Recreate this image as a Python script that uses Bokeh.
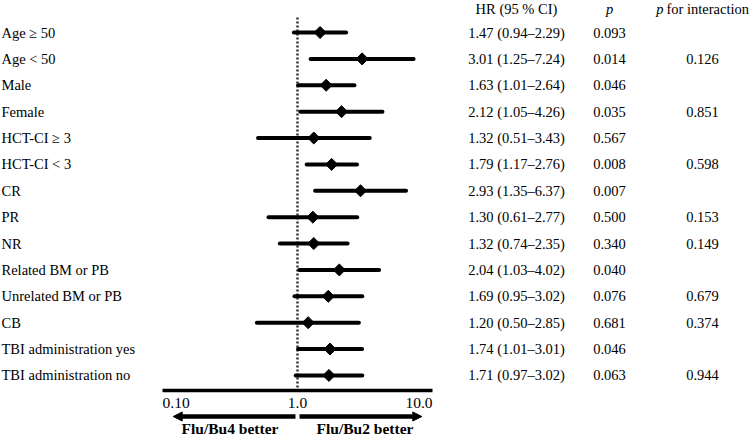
import numpy as np
from bokeh.plotting import figure
from bokeh.models import Range1d, LinearScale, ColumnDataSource, Arrow, NormalHead
from bokeh.core.properties import value
from bokeh.embed import file_html
from bokeh.resources import INLINE

# ---------------- data ----------------
labels = ["Age ≥ 50", "Age < 50", "Male", "Female", "HCT-CI ≥ 3", "HCT-CI < 3", "CR", "PR", "NR",
          "Related BM or PB", "Unrelated BM or PB", "CB", "TBI administration yes",
          "TBI administration no"]
hr = [1.47, 3.01, 1.63, 2.12, 1.32, 1.79, 2.93, 1.30, 1.32, 2.04, 1.69, 1.20, 1.74, 1.71]
ci_low = [0.94, 1.25, 1.01, 1.05, 0.51, 1.17, 1.35, 0.61, 0.74, 1.03, 0.95, 0.50, 1.01, 0.97]
ci_high = [2.29, 7.24, 2.64, 4.26, 3.43, 2.76, 6.37, 2.77, 2.35, 4.02, 3.02, 2.85, 3.01, 3.02]
p_values = ["0.093", "0.014", "0.046", "0.035", "0.567", "0.008", "0.007", "0.500", "0.340",
            "0.040", "0.076", "0.681", "0.046", "0.063"]
p_interaction = ["", "0.126", "", "0.851", "", "0.598", "", "0.153", "0.149", "", "0.679",
                 "0.374", "", "0.944"]
header_hr = "HR (95 % CI)"
header_p = "p"
header_pint_rest = "for interaction"
tick_values = [0.1, 1.0, 10.0]
tick_labels = ["0.10", "1.0", "10.0"]
arrow_labels = ["Flu/Bu4 better", "Flu/Bu2 better"]
null_hr = 1.0

# ---------------- layout ----------------
W, H = 749, 437
PX_PER_DECADE = 135.0
X_NULL_PX = 297.0
ROW0_PX, ROW_STEP = 32.0, 26.38
FONT = value("Liberation Serif")

rows = list(range(len(labels)))
hr_text = [f"{h:.2f} ({l:.2f}–{u:.2f})" for h, l, u in zip(hr, ci_low, ci_high)]

src = ColumnDataSource(dict(row=rows, label=labels, hr=hr, lo=ci_low, hi=ci_high,
                            hr_text=hr_text, p=p_values, pint=p_interaction))

def px_row(py):
    return (py - ROW0_PX) / ROW_STEP

x_range = Range1d(10 ** (-X_NULL_PX / PX_PER_DECADE), 10 ** ((W - X_NULL_PX) / PX_PER_DECADE))
y_range = Range1d(px_row(H), px_row(0))

p = figure(width=W, height=H, x_axis_type="log", x_range=x_range, y_range=y_range,
           x_axis_location=None, y_axis_location=None, output_backend="svg",
           toolbar_location=None, min_border=0)
p.grid.visible = False
p.outline_line_color = None
p.background_fill_color = "white"
p.border_fill_color = "white"

p.extra_x_ranges = {"px": Range1d(0, W)}
p.extra_x_scales = {"px": LinearScale()}

# null line
p.segment(x0=[null_hr], x1=[null_hr], y0=[px_row(17)], y1=[px_row(388)],
          line_color="#333333", line_width=2.5, line_dash="2 2")

# CIs and points
p.segment(x0="lo", x1="hi", y0="row", y1="row", source=src, line_color="black",
          line_width=4, line_cap="round")
p.scatter(x="hr", y="row", source=src, marker="square", angle=np.pi / 4, size=8.5,
          fill_color="black", line_color="black")

# axis
axis_row = px_row(390)
p.segment(x0=[tick_values[0]], x1=[tick_values[-1]], y0=[axis_row], y1=[axis_row],
          line_color="black", line_width=3.5)
aligns = ["left"] + ["center"] * (len(tick_values) - 2) + ["right"]
p.text(x=tick_values, y=[px_row(402)] * len(tick_values), text=tick_labels,
       text_align=aligns, text_baseline="middle", text_font=FONT,
       text_font_size="15.5px", text_color="black")

# arrows
arr_row = px_row(416)
head = dict(size=9, fill_color="black", line_color="black")
p.add_layout(Arrow(x_start=null_hr / 1.035, x_end=tick_values[0] * 1.2, y_start=arr_row,
                   y_end=arr_row, line_width=4.5, line_color="black",
                   end=NormalHead(**head)))
p.add_layout(Arrow(x_start=null_hr * 1.035, x_end=tick_values[-1] / 1.2, y_start=arr_row,
                   y_end=arr_row, line_width=4.5, line_color="black",
                   end=NormalHead(**head)))
p.text(x=[np.sqrt(tick_values[0] * null_hr), np.sqrt(tick_values[-1] * null_hr)],
       y=[px_row(428)] * 2, text=arrow_labels, text_align="center", text_baseline="middle",
       text_font=FONT, text_font_style="bold", text_font_size="15.5px", text_color="black")

# left labels
p.text(x=1, y="row", text="label", source=src, x_range_name="px", text_align="left",
       text_baseline="middle", text_font=FONT, text_font_size="14.5px", text_color="black")

# table columns
col_hr, col_p, col_pint = 516, 609, 702
p.text(x=col_hr, y="row", text="hr_text", source=src, x_range_name="px", text_align="center",
       text_baseline="middle", text_font=FONT, text_font_size="14.5px", text_color="black")
p.text(x=col_p, y="row", text="p", source=src, x_range_name="px", text_align="center",
       text_baseline="middle", text_font=FONT, text_font_size="14.5px", text_color="black")
p.text(x=col_pint, y="row", text="pint", source=src, x_range_name="px", text_align="center",
       text_baseline="middle", text_font=FONT, text_font_size="14.5px", text_color="black")

# headers
hy = [px_row(8)]
p.text(x=[col_hr], y=hy, text=[header_hr], x_range_name="px", text_align="center",
       text_baseline="middle", text_font=FONT, text_font_size="14.5px", text_color="black")
p.text(x=[col_p], y=hy, text=[header_p], x_range_name="px", text_align="center",
       text_baseline="middle", text_font=FONT, text_font_style="italic",
       text_font_size="14.5px", text_color="black")
p.text(x=[663], y=hy, text=[header_p], x_range_name="px", text_align="right",
       text_baseline="middle", text_font=FONT, text_font_style="italic",
       text_font_size="14.5px", text_color="black")
p.text(x=[666], y=hy, text=[header_pint_rest], x_range_name="px", text_align="left",
       text_baseline="middle", text_font=FONT, text_font_size="14.5px", text_color="black")

open("out.html", "w").write(file_html(p, INLINE))
